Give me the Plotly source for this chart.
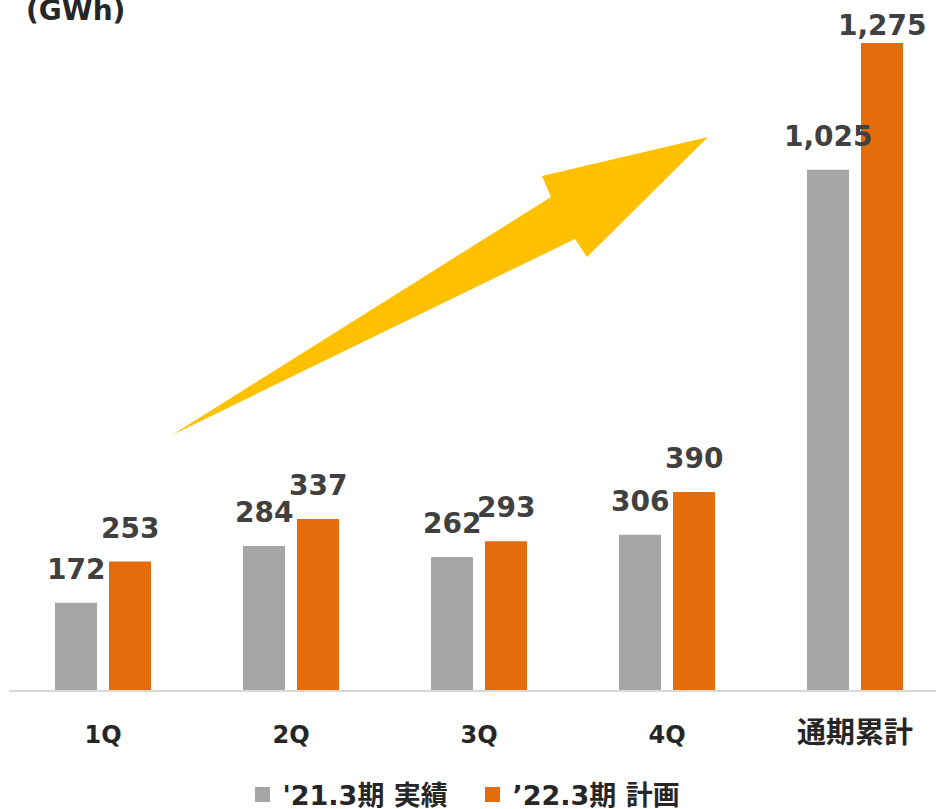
import plotly.graph_objects as go

categories = ["1Q", "2Q", "3Q", "4Q", "通期累計"]
series_names = ["'21.3期 実績", "’22.3期 計画"]
actual_21 = [172, 284, 262, 306, 1025]
plan_22 = [253, 337, 293, 390, 1275]
colors = ["#A5A5A5", "#E46C0A"]
tick_labels = ["1Q", "2Q", "3Q", "4Q", "<span style='font-size:29px'>通期累計</span>"]

FONT = "DejaVu Sans, Noto Sans CJK JP, sans-serif"

W, H = 936, 809
L, R, T, B = 9, 0, 0, 119
pw, ph = W - L - R, H - T - B
px_per_unit = 647 / 1275.0
ymax = ph / px_per_unit
BARGAP = 0.4255

def px(x):
    return (x - L) / pw

def py(y):
    return (H - B - y) / ph

fig = go.Figure()
for name, vals, c in zip(series_names, [actual_21, plan_22], colors):
    fig.add_trace(go.Bar(
        x=categories, y=vals, name=name,
        marker=dict(color=c, line=dict(width=0)),
        hoverinfo="skip", showlegend=False, legendgroup=name,
    ))
# legend entries with larger square swatches
for name, c in zip(series_names, colors):
    fig.add_trace(go.Scatter(
        x=[None], y=[None], mode="markers", name=name, legendgroup=name,
        marker=dict(symbol="square", size=15, color=c),
        hoverinfo="skip",
    ))

# value labels
ann = []
off = (1 - BARGAP) / 4
offsets = [-off, off]
for si, vals in enumerate([actual_21, plan_22]):
    for ci, v in enumerate(vals):
        shift = 15
        if si == 1 and ci == 4:
            shift = -1
        ann.append(dict(
            x=ci + offsets[si], y=v, xref="x", yref="y",
            text=f"{v:,}", showarrow=False, yanchor="bottom", xanchor="center",
            yshift=shift,
            font=dict(family=FONT, size=28, color="#404040", weight="bold"),
        ))

ann.append(dict(
    x=px(24), y=py(29), xref="paper", yref="paper", text="(GWh)",
    showarrow=False, xanchor="left", yanchor="bottom",
    font=dict(family=FONT, size=28, color="#262626", weight="bold"),
))

# arrow decoration
pts = [(172, 435), (551, 197), (542, 176), (708, 137), (587, 257), (575, 239)]
path = "M " + " L ".join(f"{px(a):.5f},{py(b):.5f}" for a, b in pts) + " Z"

fig.update_layout(
    width=W, height=H,
    margin=dict(l=L, r=R, t=T, b=B, autoexpand=False),
    paper_bgcolor="white", plot_bgcolor="white",
    barmode="group", bargap=BARGAP, bargroupgap=0.222,
    annotations=ann,
    shapes=[dict(type="path", path=path, xref="paper", yref="paper",
                 fillcolor="#FFC000", line=dict(width=0), layer="above")],
    xaxis=dict(
        range=[-0.5, 4.5 - 13 / 188.0],
        tickvals=categories, ticktext=tick_labels,
        showline=True, linecolor="#D9D9D9", linewidth=2,
        ticks="", showgrid=False, zeroline=False, automargin=False,
        ticklabelstandoff=22,
        tickfont=dict(family=FONT, size=24, color="#262626", weight="bold"),
    ),
    yaxis=dict(range=[0, ymax], visible=False, showgrid=False, zeroline=False),
    showlegend=True,
    legend=dict(
        orientation="h", x=0.5, xanchor="center", y=py(795), yanchor="middle",
        font=dict(family=FONT, size=27, color="#262626", weight="bold"),
        itemwidth=30, traceorder="normal", entrywidth=185, entrywidthmode="pixels",
    ),
)

fig.write_html("out.html")
